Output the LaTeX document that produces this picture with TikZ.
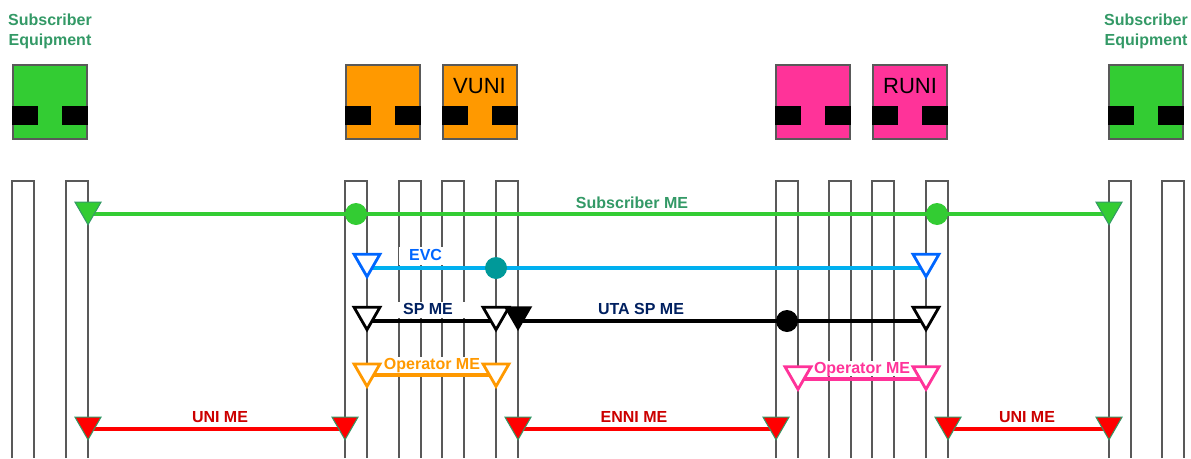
\documentclass[tikz,border=0pt]{standalone}
\usepackage{fontspec}
\setmainfont{Liberation Sans}
\usetikzlibrary{positioning,shapes.geometric}
\definecolor{subgreen}{HTML}{33CC33}
\definecolor{labgreen}{HTML}{339966}
\definecolor{optorange}{HTML}{FF9900}
\definecolor{optpink}{HTML}{FF3399}
\definecolor{evcline}{HTML}{00B0F0}
\definecolor{evcblue}{HTML}{0066FF}
\definecolor{evcteal}{HTML}{009999}
\definecolor{spnavy}{HTML}{002060}
\definecolor{mered}{HTML}{CC0000}
\definecolor{boxline}{HTML}{595959}

\begin{document}
\begin{tikzpicture}[
  x=1pt,y=-1pt,
  font=\fontsize{16}{20}\selectfont\bfseries,
  dev/.style={draw=boxline,line width=2pt,minimum size=74pt,inner sep=0pt},
  pad/.style={fill=black,minimum width=26pt,minimum height=19pt,inner sep=0pt},
  bar/.style={draw=boxline,line width=1.8pt},
  meline/.style={line width=3.5pt},
  tri/.style={regular polygon,regular polygon sides=3,shape border rotate=180,minimum size=30pt,inner sep=0pt},
  opentri/.style={tri,fill=white,line width=2.8pt,draw=#1},
  fulltri/.style={tri,fill=#1,draw=labgreen,line width=1pt},
  dot/.style={circle,fill=#1,minimum size=22pt,inner sep=0pt},
  lbl/.style={fill=white,inner sep=1.5pt,text height=11pt,text depth=1.5pt}
]
\useasboundingbox (0,0) rectangle (1191,458);

% equipment on top
\foreach \n/\x/\c in {se1/50/subgreen,opA/383/optorange,opB/479.5/optorange,rmA/813/optpink,rmB/910/optpink,se2/1146/subgreen}{
  \node[dev,fill=\c] (\n) at (\x,101.5) {};
  \node[pad] at (\x-25,115.5) {};
  \node[pad] at (\x+25,115.5) {};
}
\node[font=\fontsize{22}{26}\selectfont\mdseries] (vuni) at ([yshift=15pt]opB.center) {VUNI};
\node[font=\fontsize{22}{26}\selectfont\mdseries] (runi) at ([yshift=15pt]rmB.center) {RUNI};
\node[align=center,text=labgreen,inner sep=0pt,above=14pt of se1] (se1lbl) {Subscriber\\Equipment};
\node[align=center,text=labgreen,inner sep=0pt,above=14pt of se2] (se2lbl) {Subscriber\\Equipment};

% flow points
\foreach \x in {12,66,345,399,442,496,776,829,872,926,1109,1162}
  \draw[bar] (\x,458) |- (\x+22,181) -- (\x+22,458);

% line ends
\coordinate (subL) at (88,214);   \coordinate (subR) at (1109,214);
\coordinate (evcL) at (367,268);  \coordinate (evcR) at (926,268);
\coordinate (spL) at (367,321);   \coordinate (spR) at (496,321);
\coordinate (utaL) at (518,321);  \coordinate (utaR) at (926,321);
\coordinate (opoL) at (367,375);  \coordinate (opoR) at (496,375);
\coordinate (oppL) at (798,379);  \coordinate (oppR) at (926,379);
\coordinate (uniAL) at (88,429);  \coordinate (uniAR) at (345,429);
\coordinate (enniL) at (518,429); \coordinate (enniR) at (776,429);
\coordinate (uniBL) at (948,429); \coordinate (uniBR) at (1109,429);

\draw[meline,subgreen] (subL) -- (subR);
\draw[meline,evcline] (evcL) -- (evcR);
\draw[meline,black] (spL) -- (spR);
\draw[meline,black] (utaL) -- (utaR);
\draw[meline,optorange] (opoL) -- (opoR);
\draw[meline,optpink] (oppL) -- (oppR);
\draw[meline,red] (uniAL) -- (uniAR);
\draw[meline,red] (enniL) -- (enniR);
\draw[meline,red] (uniBL) -- (uniBR);

% labels
\node[lbl,text=labgreen] (sublbl) at (632,203.5) {Subscriber ME};
\node[lbl,text=evcblue,text width=40pt,align=right,inner sep=3pt] (evclbl) at (422,256) {EVC};
\node[lbl,text=spnavy,minimum width=100pt] (splbl) at (428,310) {SP ME};
\node[lbl,text=spnavy] (utalbl) at (641,310) {UTA SP ME};
\node[lbl,text=optorange,minimum width=100pt] (opolbl) at (432,365) {Operator ME};
\node[lbl,text=optpink,minimum width=106pt] (opplbl) at (862,368.5) {Operator ME};
\node[lbl,text=mered] (uniAlbl) at (220,418) {UNI ME};
\node[lbl,text=mered] (ennilbl) at (634,418) {ENNI ME};
\node[lbl,text=mered] (uniBlbl) at (1027,418) {UNI ME};

% MIPs
\node[dot=subgreen] (subm1) at (356,214) {};
\node[dot=subgreen] (subm2) at (937,214) {};
\node[dot=evcteal] (evcm) at (496,268) {};
\node[dot=black] (utam) at (787,321) {};

% MEPs
\node[fulltri=subgreen] (subLt) at ([yshift=4.3pt]subL) {};
\node[fulltri=subgreen] (subRt) at ([yshift=4.3pt]subR) {};
\node[opentri=evcblue] (evcLt) at ([yshift=6.3pt]evcL) {};
\node[opentri=evcblue] (evcRt) at ([yshift=6.3pt]evcR) {};
\node[opentri=black] (spLt) at ([yshift=6.3pt]spL) {};
\node[opentri=black] (spRt) at ([yshift=6.3pt]spR) {};
\node[tri,fill=black,draw=black,line width=1.5pt] (utaLt) at ([yshift=6.5pt]utaL) {};
\node[opentri=black] (utaRt) at ([yshift=6.3pt]utaR) {};
\node[opentri=optorange] (opoLt) at ([yshift=3.6pt]opoL) {};
\node[opentri=optorange] (opoRt) at ([yshift=3.6pt]opoR) {};
\node[opentri=optpink] (oppLt) at ([yshift=4.7pt]oppL) {};
\node[opentri=optpink] (oppRt) at ([yshift=4.7pt]oppR) {};
\node[fulltri=red] (uniALt) at ([yshift=4.3pt]uniAL) {};
\node[fulltri=red] (uniARt) at ([yshift=4.3pt]uniAR) {};
\node[fulltri=red] (enniLt) at ([yshift=4.3pt]enniL) {};
\node[fulltri=red] (enniRt) at ([yshift=4.3pt]enniR) {};
\node[fulltri=red] (uniBLt) at ([yshift=4.3pt]uniBL) {};
\node[fulltri=red] (uniBRt) at ([yshift=4.3pt]uniBR) {};
\end{tikzpicture}
\end{document}
